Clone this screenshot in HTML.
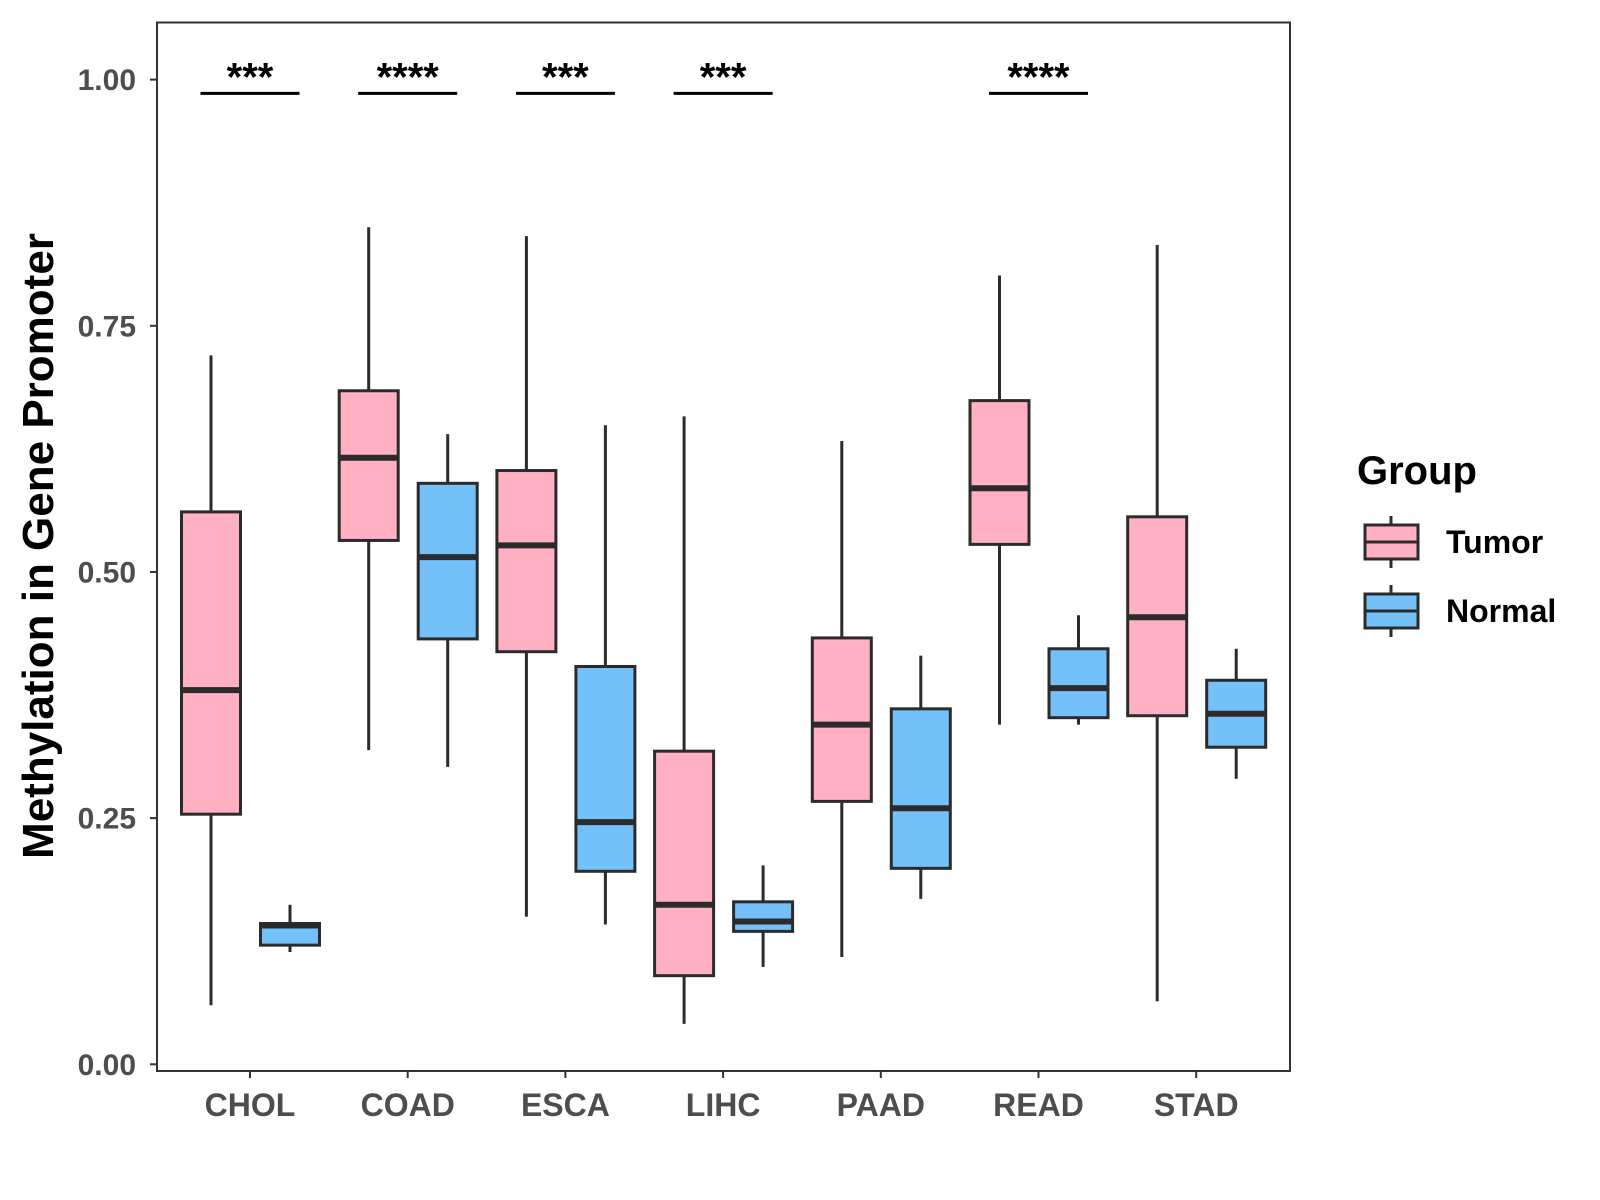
<!DOCTYPE html>
<html><head><meta charset="utf-8"><style>
body{margin:0;background:#fff}
svg{font-family:"Liberation Sans",Arial,sans-serif;display:block}
</style></head><body>
<svg id="chart" width="1600" height="1200"></svg>
<script>
const categories=["CHOL","COAD","ESCA","LIHC","PAAD","READ","STAD"];
// [lower, q1, median, q3, upper]
const tumorStats=[[0.060,0.254,0.380,0.561,0.720],[0.319,0.532,0.616,0.684,0.850],[0.150,0.419,0.527,0.603,0.841],[0.041,0.090,0.162,0.318,0.658],[0.109,0.267,0.345,0.433,0.633],[0.345,0.528,0.585,0.674,0.801],[0.064,0.354,0.454,0.556,0.832]];
const normalStats=[[0.114,0.121,0.141,0.143,0.162],[0.302,0.432,0.515,0.590,0.640],[0.142,0.196,0.246,0.404,0.649],[0.099,0.135,0.145,0.165,0.202],[0.168,0.199,0.260,0.361,0.415],[0.345,0.352,0.382,0.422,0.456],[0.290,0.322,0.356,0.390,0.422]];
const sigLabels=["***","****","***","***","","****",""];
const sigLevel=0.986;
const yTicks=[0,0.25,0.5,0.75,1.0];
const yTickLabels=["0.00","0.25","0.50","0.75","1.00"];

const NS="http://www.w3.org/2000/svg";
const svg=document.getElementById("chart");
const L=157,T=22.5,R=1290,B=1071;
const y=v=>1064.3-v*984.7;
const x=i=>250+i*157.7;
function mk(tag,attrs,parent){const e=document.createElementNS(NS,tag);for(const k in attrs)e.setAttribute(k,attrs[k]);(parent||svg).appendChild(e);return e;}
const stroke="#2b2b2b";
const panel=mk("rect",{x:L,y:T,width:R-L,height:B-T,fill:"#fff",stroke:"#333","stroke-width":2});


yTicks.forEach((v,i)=>{
  const t=mk("line",{x1:150,x2:L,y1:y(v),y2:y(v),stroke:"#333","stroke-width":2});
  
  
  const tx=mk("text",{x:136,y:y(v)+10.5,"text-anchor":"end","font-size":30,"font-weight":"bold",fill:"#4d4d4d"});
  tx.textContent=yTickLabels[i];
  
  
});
categories.forEach((c,i)=>{
  const t=mk("line",{x1:x(i),x2:x(i),y1:B,y2:B+7,stroke:"#333","stroke-width":2});
  
  
  const tx=mk("text",{x:x(i),y:1116,"text-anchor":"middle","font-size":32,"font-weight":"bold",fill:"#4d4d4d"});
  tx.textContent=c;
  
  
});
function box(cx,s,fill,name){
  const g=mk("g",{});
  
  
  const w=59;
  mk("line",{x1:cx,x2:cx,y1:y(s[0]),y2:y(s[4]),stroke:stroke,"stroke-width":3},g);
  mk("rect",{x:cx-w/2,y:y(s[3]),width:w,height:y(s[1])-y(s[3]),fill:fill,stroke:stroke,"stroke-width":3},g);
  mk("line",{x1:cx-w/2,x2:cx+w/2,y1:y(s[2]),y2:y(s[2]),stroke:stroke,"stroke-width":6},g);
}
categories.forEach((c,i)=>{
  box(x(i)-39,tumorStats[i],"#FFB0C3","box-tumor-"+c.toLowerCase());
  box(x(i)+40,normalStats[i],"#74C0F8","box-normal-"+c.toLowerCase());
  if(sigLabels[i]){
    const ln=mk("line",{x1:x(i)-49.5,x2:x(i)+49.5,y1:y(sigLevel),y2:y(sigLevel),stroke:"#000","stroke-width":3});
    
    
    const st=mk("text",{x:x(i),y:y(sigLevel)-3,"text-anchor":"middle","font-size":40,"font-weight":"bold",fill:"#000"});
    st.textContent=sigLabels[i];
    
    
  }
});
const yt=mk("text",{x:0,y:0,transform:"translate(53,546) rotate(-90)","text-anchor":"middle","font-size":44,"font-weight":"bold",fill:"#000"});
yt.textContent="Methylation in Gene Promoter";


const lg=mk("text",{x:1357,y:484,"font-size":40,"font-weight":"bold",fill:"#000"});
lg.textContent="Group";


[["Tumor","#FFB0C3",542],["Normal","#74C0F8",611]].forEach(([lab,col,cy])=>{
  const g=mk("g",{});
  
  
  mk("line",{x1:1391,x2:1391,y1:cy-26,y2:cy+26,stroke:stroke,"stroke-width":3},g);
  mk("rect",{x:1365,y:cy-17,width:53,height:34,fill:col,stroke:stroke,"stroke-width":3},g);
  mk("line",{x1:1365,x2:1418,y1:cy,y2:cy,stroke:stroke,"stroke-width":3},g);
  const t=mk("text",{x:1446,y:cy+11,"font-size":32,"font-weight":"bold",fill:"#000"},g);
  t.textContent=lab;
});
</script>
</body></html>
